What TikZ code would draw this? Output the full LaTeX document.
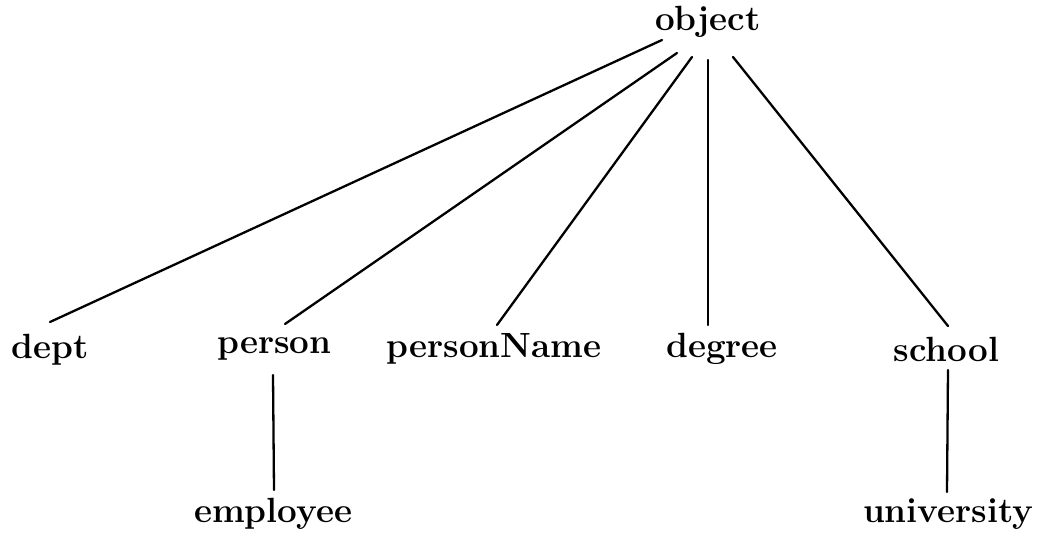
\documentclass[tikz,border=0pt]{standalone}
\begin{document}
\begin{tikzpicture}[x=1pt,y=-1pt,
  lbl/.style={inner sep=0pt,outer sep=0pt,anchor=base,font=\fontsize{35}{41}\selectfont\bfseries},
  edge/.style={line width=2.3pt,line cap=round}]
\useasboundingbox (0,0) rectangle (1037,540);
\node[lbl] (object) at (708,31) {object};
\node[lbl] (dept) at (50,358) {dept};
\node[lbl] (person) at (274.5,353) {person};
\node[lbl] (personName) at (494,357) {personName};
\node[lbl] (degree) at (722,357) {degree};
\node[lbl] (school) at (946.5,362) {school};
\node[lbl] (employee) at (273,522) {employee};
\node[lbl] (university) at (948,522) {university};
\draw[edge] ([shift={(-46,9)}]object.base) -- ([shift={(0,-36)}]dept.base);
\draw[edge] ([shift={(-31,22)}]object.base) -- ([shift={(10.5,-29)}]person.base);
\draw[edge] ([shift={(-16,26)}]object.base) -- ([shift={(3,-32)}]personName.base);
\draw[edge] ([shift={(0,29)}]object.base) -- ([shift={(-14,-32)}]degree.base);
\draw[edge] ([shift={(25,26)}]object.base) -- ([shift={(1.5,-36)}]school.base);
\draw[edge] ([shift={(-1.5,22)}]person.base) -- ([shift={(1,-32)}]employee.base);
\draw[edge] ([shift={(1.5,8)}]school.base) -- ([shift={(-1,-30)}]university.base);
\end{tikzpicture}
\end{document}
